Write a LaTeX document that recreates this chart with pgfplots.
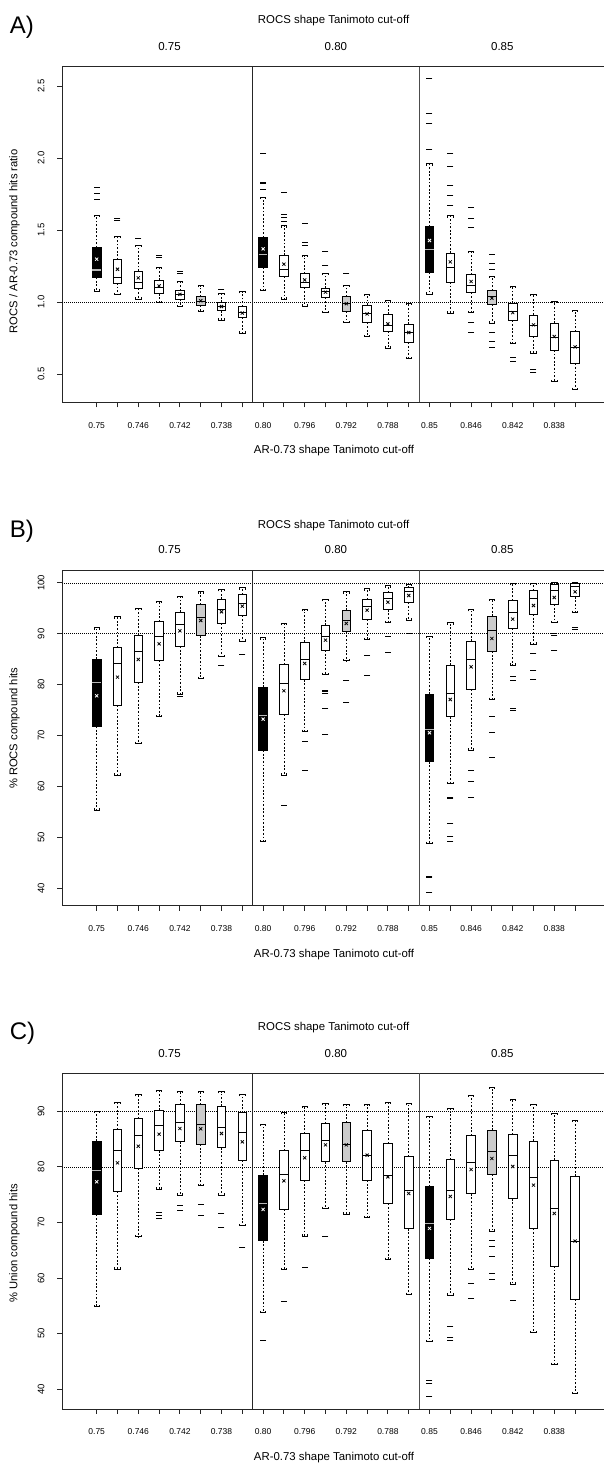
\documentclass[border=0pt]{standalone}
\usepackage{fontspec}
\setmainfont{Liberation Sans}
\usepackage{pgfplots}
\usepackage{pgfplotstable}
\pgfplotsset{compat=1.18}
\usepgfplotslibrary{statistics}

% ---------------- Panel A ----------------
\pgfplotstableread{
pos lw lq med uq uw mean c
1 1.078 1.174 1.224 1.379 1.601 1.299 k
2 1.055 1.134 1.174 1.294 1.456 1.229 w
3 1.021 1.095 1.141 1.217 1.398 1.169 w
4 0.997 1.058 1.100 1.153 1.243 1.113 w
5 0.970 1.021 1.053 1.081 1.143 1.055 w
6 0.935 0.979 1.005 1.039 1.115 1.010 g
7 0.877 0.940 0.974 1.000 1.062 0.970 w
8 0.785 0.893 0.928 0.970 1.074 0.925 w
9 1.081 1.240 1.333 1.449 1.727 1.370 k
10 1.023 1.178 1.229 1.326 1.530 1.264 w
11 0.974 1.101 1.136 1.197 1.324 1.155 w
12 0.930 1.032 1.074 1.097 1.200 1.070 w
13 0.859 0.937 0.993 1.039 1.120 0.990 g
14 0.761 0.859 0.920 0.981 1.053 0.919 w
15 0.683 0.801 0.842 0.917 1.016 0.850 w
16 0.611 0.722 0.792 0.847 0.993 0.790 w
17 1.056 1.206 1.368 1.525 1.961 1.428 k
18 0.924 1.141 1.243 1.340 1.600 1.280 w
19 0.928 1.067 1.120 1.190 1.352 1.144 w
20 0.854 0.984 1.039 1.081 1.183 1.028 g
21 0.715 0.873 0.935 0.993 1.113 0.928 w
22 0.646 0.762 0.840 0.912 1.053 0.843 w
23 0.449 0.669 0.757 0.854 1.005 0.762 w
24 0.396 0.576 0.687 0.796 0.947 0.690 w
}\tA
\pgfplotstableread{
x y
1 1.800
1 1.757
1 1.710
2 1.583
2 1.571
3 1.442
4 1.324
4 1.308
5 1.213
5 1.197
7 1.092
9 2.035
9 1.833
9 1.826
9 1.780
10 1.761
10 1.611
10 1.590
10 1.560
11 1.549
11 1.414
11 1.396
12 1.356
12 1.259
13 1.197
17 2.551
17 2.313
17 2.238
17 2.063
18 2.030
18 1.942
18 1.808
18 1.738
18 1.674
19 1.660
19 1.583
19 1.519
19 0.859
19 0.792
20 1.329
20 1.271
20 1.229
20 0.792
20 0.731
20 0.688
21 0.618
21 0.588
22 0.535
22 0.512
}\oA

% ---------------- Panel B ----------------
\pgfplotstableread{
pos lw lq med uq uw mean c
1 55.37 71.86 80.50 85.01 91.16 77.81 k
2 62.24 75.92 84.16 87.24 93.32 81.48 w
3 68.46 80.50 86.58 89.66 94.96 84.95 w
4 73.69 84.75 89.40 92.34 96.40 88.02 w
5 78.14 87.57 91.75 94.24 97.38 90.58 w
6 81.22 89.59 93.19 95.75 98.23 92.60 g
7 85.54 92.02 94.83 96.79 98.69 94.31 w
8 88.55 93.59 96.01 97.71 99.02 95.42 w
9 49.15 67.15 74.02 79.52 89.20 73.23 k
10 62.24 74.15 80.24 83.97 92.02 78.80 w
11 70.81 80.96 85.01 88.35 94.76 84.16 w
12 82.00 86.78 89.40 91.69 96.73 88.74 w
13 84.69 90.38 92.67 94.63 98.23 92.02 g
14 88.87 92.80 95.29 96.73 98.82 94.63 w
15 92.15 94.70 96.92 98.04 99.41 96.20 w
16 92.67 96.14 98.23 99.02 99.67 97.51 w
17 48.82 64.86 71.20 78.14 89.53 70.55 k
18 60.60 73.69 78.27 83.84 92.15 77.09 w
19 67.15 79.06 85.01 88.55 94.76 83.51 w
20 77.09 86.58 90.58 93.46 96.79 89.07 g
21 83.84 91.03 94.11 96.53 99.87 92.87 w
22 87.96 93.85 96.92 98.43 99.87 95.55 w
23 92.21 95.81 98.43 99.67 100.0 97.12 w
24 94.18 97.25 99.21 99.87 100.0 98.23 w
}\tB
\pgfplotstableread{
x y
5 77.60
7 83.70
8 85.93
10 56.22
11 68.85
11 63.09
12 78.90
12 78.60
12 78.30
12 75.33
12 70.22
13 80.89
13 76.51
14 85.80
14 81.74
15 89.40
15 86.26
16 89.99
17 42.28
17 42.10
17 39.14
18 57.79
18 57.60
18 52.75
18 50.26
18 49.15
19 63.22
19 60.93
19 57.85
20 73.82
20 70.62
20 65.64
21 81.67
21 80.76
21 75.33
21 74.87
22 86.13
22 82.72
22 81.02
23 90.05
23 89.73
23 86.78
24 91.23
24 90.84
}\oB

% ---------------- Panel C ----------------
\pgfplotstableread{
pos lw lq med uq uw mean c
1 54.85 71.44 79.40 84.61 90.00 77.31 k
2 61.62 75.57 82.87 86.71 91.68 80.72 w
3 67.43 79.76 85.69 88.68 92.99 83.71 w
4 75.99 82.87 87.49 90.18 93.77 85.87 w
5 74.91 84.49 87.96 91.20 93.65 86.89 w
6 76.59 84.07 87.66 91.20 93.65 86.83 g
7 74.91 83.41 87.01 90.90 93.53 85.99 w
8 69.40 81.20 86.11 89.70 93.05 84.49 w
9 53.77 66.71 73.41 78.50 87.66 72.34 k
10 61.56 72.34 78.62 82.87 89.76 77.49 w
11 67.54 77.60 82.87 85.93 90.90 81.62 w
12 72.51 80.90 84.73 87.78 91.50 83.95 w
13 71.50 80.90 83.95 87.90 91.20 83.95 g
14 70.84 77.60 82.10 86.47 91.26 82.10 w
15 63.35 73.41 78.50 84.19 91.68 78.20 w
16 57.07 68.86 75.81 81.80 91.38 75.21 w
17 48.56 63.53 69.82 76.47 89.10 68.93 k
18 56.95 70.54 75.75 81.32 90.48 74.67 w
19 61.56 75.16 80.78 85.57 92.87 79.52 w
20 68.44 78.62 82.81 86.59 94.37 81.50 g
21 58.92 74.25 81.98 85.81 92.16 80.06 w
22 50.18 68.93 78.08 84.61 91.32 76.71 w
23 44.49 62.16 72.57 81.20 89.70 71.62 w
24 39.28 56.17 66.65 78.32 88.38 66.65 w
}\tC
\pgfplotstableread{
x y
4 71.80
4 71.30
4 70.80
5 73.11
5 72.22
6 73.23
6 71.32
7 71.62
7 69.10
8 65.45
9 48.74
10 55.87
11 61.92
12 67.54
17 41.68
17 41.08
17 38.68
18 51.26
18 49.35
18 48.86
19 58.98
19 56.29
20 66.71
20 65.63
20 63.95
20 60.84
20 59.76
21 55.93
}\oC

\pgfplotsset{
 boxplot/draw direction=y,
 boxplot/box extend=0.42,
 boxplot/whisker extend=0.26,
 boxplot/draw/lower whisker/.code={%
   \draw[line width=0.6pt, dash pattern=on 1.8pt off 1.8pt]
     (boxplot box cs:\pgfplotsboxplotvalue{lower quartile},0.5) --
     (boxplot box cs:\pgfplotsboxplotvalue{lower whisker},0.5);
   \draw[line width=0.7pt]
     ([yshift=1.8pt]boxplot whisker cs:\pgfplotsboxplotvalue{lower whisker},0) --
     (boxplot whisker cs:\pgfplotsboxplotvalue{lower whisker},0) --
     (boxplot whisker cs:\pgfplotsboxplotvalue{lower whisker},1) --
     ([yshift=1.8pt]boxplot whisker cs:\pgfplotsboxplotvalue{lower whisker},1);
 },
 boxplot/draw/upper whisker/.code={%
   \draw[line width=0.6pt, dash pattern=on 1.8pt off 1.8pt]
     (boxplot box cs:\pgfplotsboxplotvalue{upper quartile},0.5) --
     (boxplot box cs:\pgfplotsboxplotvalue{upper whisker},0.5);
   \draw[line width=0.7pt]
     ([yshift=-1.8pt]boxplot whisker cs:\pgfplotsboxplotvalue{upper whisker},0) --
     (boxplot whisker cs:\pgfplotsboxplotvalue{upper whisker},0) --
     (boxplot whisker cs:\pgfplotsboxplotvalue{upper whisker},1) --
     ([yshift=-1.8pt]boxplot whisker cs:\pgfplotsboxplotvalue{upper whisker},1);
 },
 bxdef/.style={boxplot/every box/.style={draw=black,fill=white,line width=0.8pt},
               boxplot/every median/.style={draw=black,line width=0.8pt}},
 kbox/.style={boxplot/every box/.style={draw=black,fill=black,line width=0.8pt},
              boxplot/every median/.style={draw=gray!55,line width=1.2pt}},
 gbox/.style={boxplot/every box/.style={draw=black,fill=gray!40,line width=0.8pt}},
 bs0/.style={kbox}, bs8/.style={kbox}, bs16/.style={kbox},
 bs5/.style={gbox}, bs12/.style={gbox}, bs19/.style={gbox},
 panel/.style={
   scale only axis, width=541.6pt, height=335.6pt, anchor=south west,
   xmin=-0.649, xmax=25.39,
   xtick={1,...,24},
   xticklabels={0.75,{},0.746,{},0.742,{},0.738,{},0.80,{},0.796,{},0.792,{},0.788,{},0.85,{},0.846,{},0.842,{},0.838,{}},
   xtick pos=lower, ytick pos=left,
   tick align=outside, major tick length=5pt,
   axis line style={black!85, line width=0.8pt},
   every tick/.style={black!85, line width=0.8pt},
   xticklabel style={font=\fontsize{8.5}{10}\selectfont, anchor=base, yshift=-21pt},
   yticklabel style={font=\fontsize{9.5}{11}\selectfont, xshift=-13.1pt, rotate=90, anchor=base},
   /pgf/number format/assume math mode=true,
   scaled y ticks=false,
 },
 meanplot/.style={only marks, scatter, point meta=explicit symbolic, mark size=2.2pt, line width=0.8pt,
   scatter/classes={w={mark=x,black}, g={mark=x,black}, k={mark=x,white}}},
 outl/.style={only marks, mark=-, mark size=3pt, line width=0.8pt, black},
}
\newcommand{\boxes}[1]{%
  \pgfplotsinvokeforeach{0,...,23}{%
    \pgfplotstablegetelem{##1}{lw}\of#1\let\vlw\pgfplotsretval
    \pgfplotstablegetelem{##1}{lq}\of#1\let\vlq\pgfplotsretval
    \pgfplotstablegetelem{##1}{med}\of#1\let\vmed\pgfplotsretval
    \pgfplotstablegetelem{##1}{uq}\of#1\let\vuq\pgfplotsretval
    \pgfplotstablegetelem{##1}{uw}\of#1\let\vuw\pgfplotsretval
    \pgfplotstablegetelem{##1}{pos}\of#1\let\vpos\pgfplotsretval
    \edef\doboxplot{\noexpand\addplot[black, bxdef, bs##1/.try,
      boxplot prepared={draw direction=y, draw position=\vpos, lower whisker=\vlw,
        lower quartile=\vlq, median=\vmed, upper quartile=\vuq, upper whisker=\vuw}]
      coordinates {};}%
    \doboxplot
  }%
}
\tikzset{
 ttl/.style={inner sep=0pt, anchor=base, font=\fontsize{11.4}{13}\selectfont},
 grp/.style={inner sep=0pt, anchor=base, font=\fontsize{11.5}{13}\selectfont},
 let/.style={inner sep=0pt, anchor=base west, font=\fontsize{24}{26}\selectfont},
 ylab/.style={inner sep=0pt, anchor=center, rotate=90, font=\fontsize{11.2}{13}\selectfont},
}

\begin{document}
\begin{tikzpicture}
\useasboundingbox (0pt,0pt) rectangle (604pt,1464pt);

% ===== Panel A =====
\begin{axis}[panel, at={(62.4pt,1061.7pt)}, ymin=0.306, ymax=2.634,
  ytick={0.5,1.0,1.5,2.0,2.5},
  yticklabel style={/pgf/number format/fixed, /pgf/number format/fixed zerofill, /pgf/number format/precision=1}]
\addplot[black, line width=0.6pt, dash pattern=on 0.8pt off 1.2pt] coordinates {(-0.649,1) (25.39,1)};
\addplot[black!85, line width=0.8pt] coordinates {(8.5,0.306) (8.5,2.634)};
\addplot[black!70, line width=0.8pt] coordinates {(16.5,0.306) (16.5,2.634)};
\boxes{\tA}
\addplot[outl] table[x=x,y=y] {\oA};
\addplot[meanplot] table[x=pos,y=mean,meta=c] {\tA};
\end{axis}
\node[let] at (9.6pt,1430.7pt) {A)};
\node[ttl] at (333.6pt,1440.5pt) {ROCS shape Tanimoto cut-off};
\node[grp] at (169.5pt,1413.3pt) {0.75};
\node[grp] at (335.9pt,1413.3pt) {0.80};
\node[grp] at (502.3pt,1413.3pt) {0.85};
\node[ttl] at (334pt,1010pt) {AR-0.73 shape Tanimoto cut-off};
\node[ylab] at (14.5pt,1222.7pt) {ROCS / AR-0.73 compound hits ratio};

% ===== Panel B =====
\begin{axis}[panel, at={(62.4pt,558.3pt)}, ymin=36.6, ymax=102.5,
  ytick={40,50,...,100}]
\addplot[black, line width=0.6pt, dash pattern=on 0.8pt off 1.2pt] coordinates {(-0.649,100) (25.39,100)};
\addplot[black, line width=0.6pt, dash pattern=on 0.8pt off 1.2pt] coordinates {(-0.649,90) (25.39,90)};
\addplot[black!85, line width=0.8pt] coordinates {(8.5,36.6) (8.5,102.5)};
\addplot[black!70, line width=0.8pt] coordinates {(16.5,36.6) (16.5,102.5)};
\boxes{\tB}
\addplot[outl] table[x=x,y=y] {\oB};
\addplot[meanplot] table[x=pos,y=mean,meta=c] {\tB};
\end{axis}
\node[let] at (9.6pt,926.7pt) {B)};
\node[ttl] at (333.6pt,935.7pt) {ROCS shape Tanimoto cut-off};
\node[grp] at (169.5pt,910pt) {0.75};
\node[grp] at (335.9pt,910pt) {0.80};
\node[grp] at (502.3pt,910pt) {0.85};
\node[ttl] at (334pt,506.7pt) {AR-0.73 shape Tanimoto cut-off};
\node[ylab] at (14.5pt,735.7pt) {\% ROCS compound hits};

% ===== Panel C =====
\begin{axis}[panel, at={(62.4pt,55pt)}, ymin=36.46, ymax=96.8,
  ytick={40,50,...,90}]
\addplot[black, line width=0.6pt, dash pattern=on 0.8pt off 1.2pt] coordinates {(-0.649,90) (25.39,90)};
\addplot[black, line width=0.6pt, dash pattern=on 0.8pt off 1.2pt] coordinates {(-0.649,80) (25.39,80)};
\addplot[black!85, line width=0.8pt] coordinates {(8.5,36.46) (8.5,96.8)};
\addplot[black!70, line width=0.8pt] coordinates {(16.5,36.46) (16.5,96.8)};
\boxes{\tC}
\addplot[outl] table[x=x,y=y] {\oC};
\addplot[meanplot] table[x=pos,y=mean,meta=c] {\tC};
\end{axis}
\node[let] at (9.6pt,424pt) {C)};
\node[ttl] at (333.6pt,433pt) {ROCS shape Tanimoto cut-off};
\node[grp] at (169.5pt,406.7pt) {0.75};
\node[grp] at (335.9pt,406.7pt) {0.80};
\node[grp] at (502.3pt,406.7pt) {0.85};
\node[ttl] at (334pt,3.4pt) {AR-0.73 shape Tanimoto cut-off};
\node[ylab] at (14.5pt,220.7pt) {\% Union compound hits};
\end{tikzpicture}
\end{document}
